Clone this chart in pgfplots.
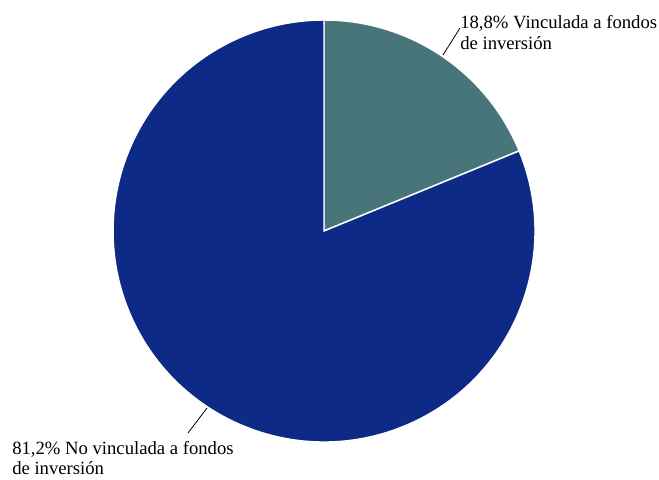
\documentclass[border=0pt]{standalone}
\usepackage{pgfplots}
\pgfplotsset{compat=1.18}
\usepackage{fontspec}
\setmainfont{Liberation Serif}
\definecolor{sliceA}{RGB}{72,117,122}
\definecolor{sliceB}{RGB}{14,42,135}
% data (percent)
\def\valA{18.8}
\def\valB{81.2}
\begin{document}
\begin{tikzpicture}
\begin{axis}[
  scale only axis, width=494.25pt, height=359.25pt,
  xmin=0, xmax=659, ymin=0, ymax=479,
  hide axis, clip=false]
\pgfmathsetmacro{\angA}{90-\valA*3.6}
\pgfmathsetmacro{\angB}{\angA-\valB*3.6}
\fill[sliceA, draw=white, line width=1.1pt] (axis cs:324,248) -- ++(90:158.25pt) arc[start angle=90, end angle=\angA, radius=158.25pt] -- cycle;
\fill[sliceB, draw=white, line width=1.1pt] (axis cs:324,248) -- ++(\angA:158.25pt) arc[start angle=\angA, end angle=\angB, radius=158.25pt] -- cycle;
\draw[black, line width=0.6pt] (axis cs:443,424) -- (axis cs:460,451);
\draw[black, line width=0.6pt] (axis cs:207,71) -- (axis cs:188,46);
\node[anchor=base west, inner sep=0pt, font=\fontsize{14}{16}\selectfont] at (axis cs:460,450.5) {18,8\% Vinculada a fondos};
\node[anchor=base west, inner sep=0pt, font=\fontsize{14}{16}\selectfont] at (axis cs:460,429.5) {de inversión};
\node[anchor=base west, inner sep=0pt, font=\fontsize{14}{16}\selectfont] at (axis cs:12,24.5) {81,2\% No vinculada a fondos};
\node[anchor=base west, inner sep=0pt, font=\fontsize{14}{16}\selectfont] at (axis cs:12,4.5) {de inversión};
\end{axis}
\pgfresetboundingbox
\path (0,0) rectangle (494.25pt,359.25pt);
\end{tikzpicture}
\end{document}
